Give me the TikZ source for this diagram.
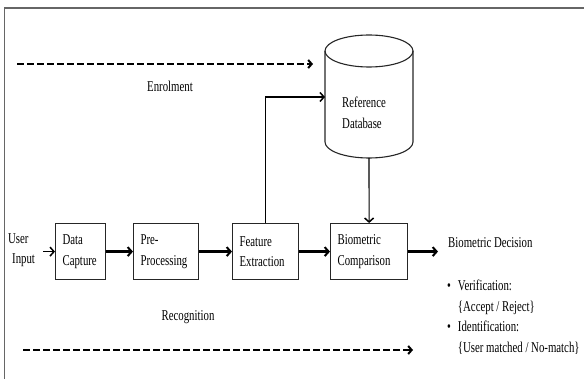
\documentclass[tikz,border=0pt]{standalone}
\usepackage{fontspec}
\setmainfont{Liberation Serif}[FakeStretch=0.72]
\usetikzlibrary{arrows.meta}
\begin{document}
\begin{tikzpicture}[x=1pt,y=-1pt,
  every node/.style={font=\fontsize{15}{20.5}\selectfont, inner sep=0pt},
  box/.style={draw=black!85, line width=1.2pt, minimum height=56pt, inner xsep=7pt, align=left, anchor=north west},
  thinflow/.style={line width=1.1pt, -{Straight Barb[length=4pt,width=9pt,line width=1.5pt]}},
  thickflow/.style={line width=2.4pt, -{Straight Barb[length=4pt,width=9pt,line width=2pt]}},
  dashflow/.style={line width=2.2pt, dash pattern=on 6.5pt off 3.5pt, -{Straight Barb[length=3.5pt,width=8pt,line width=2pt]}},
  frame/.style={draw=black!60, line width=1.6pt},
  dbline/.style={draw=black!85, line width=1.1pt},
]
\useasboundingbox (0,0) rectangle (584,379);
% frame
\draw[frame] (4.5,379) -- (4.5,8) -- (584,8);

% boxes
\node[box, text width=36pt] (cap) at (55,223) {Data\\Capture};
\node[box, text width=51pt] (pre) at (133,223) {Pre-\\Processing};
\node[box, text width=52pt] (fe) at (232,223) {Feature\\Extraction};
\node[box, text width=63pt] (cmp) at (330,223) {Biometric\\Comparison};

% user input
\node[align=left, anchor=west] (ui) at (8,250) {User\\\hspace*{4pt}Input};

% database cylinder
\draw[dbline] (325,51) -- (325,142) arc[start angle=180, end angle=360, x radius=44pt, y radius=16pt] -- (413,51);
\draw[dbline] (369,51) ellipse [x radius=44pt, y radius=16pt];
\node[align=left, anchor=west] (db) at (342,113) {Reference\\Database};
\coordinate (dbl) at (325,97);
\coordinate (dbb) at (369,158);

% decision
\node[anchor=base west] (dec) at (448,248) {Biometric Decision};
\node[anchor=base west] (list) at (447,291) {\begin{tabular}[t]{@{}l@{\hspace{7pt}}l@{}}
\textbullet & Verification:\\
 & \{Accept / Reject\}\\
\textbullet & Identification:\\
 & \{User matched / No-match\}
\end{tabular}};

% labels
\node[anchor=base] (enr) at (170,92) {Enrolment};
\node[anchor=base] (rec) at (188,321) {Recognition};

% dashed flows
\coordinate (e1) at (17,64);
\coordinate (e2) at (313,64);
\coordinate (r1) at (23,350);
\coordinate (r2) at (413,350);
\draw[dashflow] (e1) -- (e2);
\draw[dashflow] (r1) -- (r2);

% connectors
\draw[thinflow, shorten <=8pt] (ui.east |- cap.west) -- (cap.west);
\draw[thickflow] (cap.east) -- (pre.west);
\draw[thickflow] (pre.east) -- (fe.west);
\draw[thickflow] (fe.east) -- (cmp.west);
\draw[thickflow, shorten >=10pt] (cmp.east) -- (cmp.east -| dec.west);
\draw[thinflow] (fe.north) |- (dbl);
\draw[thinflow] (dbb) -- (cmp.north);
\end{tikzpicture}
\end{document}
